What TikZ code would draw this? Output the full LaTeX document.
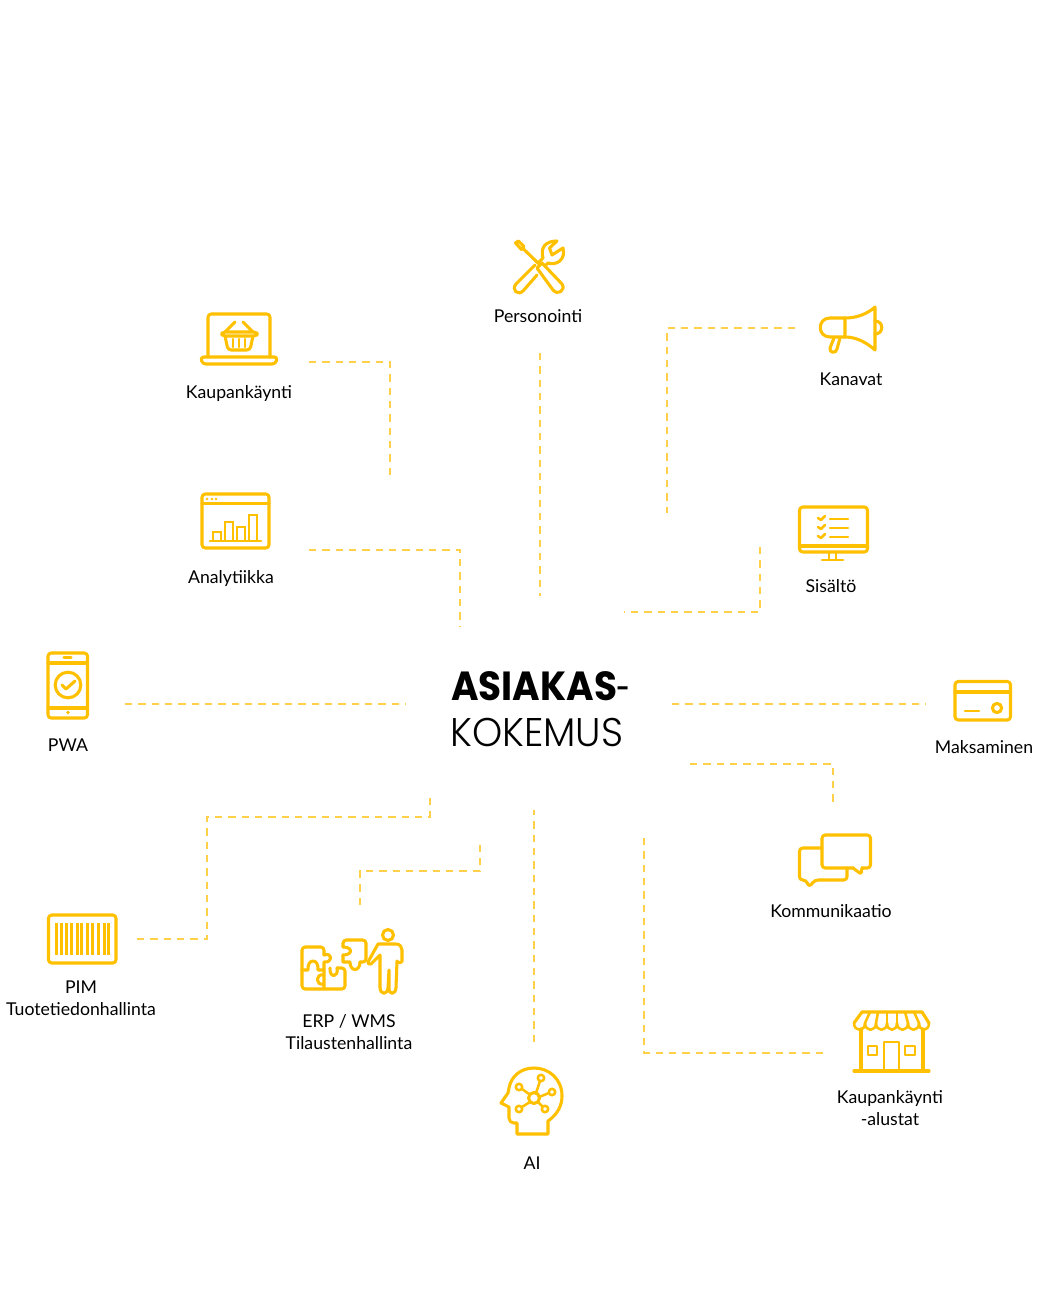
\documentclass[tikz,border=0pt]{standalone}
\usepackage{fontspec}
\setmainfont{Lato}
\newfontfamily\titlebold{Poppins Bold}[FakeStretch=0.92]
\newfontfamily\titlelight{Poppins Light}[FakeStretch=0.96]
\definecolor{ico}{HTML}{FFC000}
\definecolor{dsh}{HTML}{FFD04A}
\tikzset{
  icon/.style={draw=ico,line width=2.3pt,line join=round,line cap=round,fill=none},
  iconr/.style={icon,rounded corners=2.4pt},
  thin icon/.style={icon,line width=1.9pt},
  bar/.style={draw=ico,line width=1.9pt},
  conn/.style={draw=dsh,line width=1pt,dash pattern=on 5.6pt off 4.4pt},
  lab/.style={font=\fontsize{13.25pt}{16.5pt}\selectfont,text=black,align=center,inner sep=0pt},
}
\begin{document}
\begin{tikzpicture}[x=0.75pt,y=-0.75pt]
\useasboundingbox (0,0) rectangle (1059,1316);
\fill[white] (0,0) rectangle (1059,1316);

% title
\node[anchor=base west,inner sep=0pt,font=\fontsize{30.5pt}{30pt}\selectfont] (t1) at (451,700) {\titlebold ASIAKAS\normalfont\kern-1.5pt -};
\node[anchor=base west,inner sep=0pt,font=\fontsize{30pt}{30pt}\selectfont] (t2) at (450,746) {\titlelight KOKEMUS};

% labels
\node[lab] (personointi) at (538,316) {Personointi};
\node[lab] (kaupan) at (239,394) {Kaupankäynti};
\node[lab] (kanavat) at (851,379) {Kanavat};
\node[lab] (analyt) at (231,579) {Analytiikka};
\node[lab] (sisalto) at (831,586) {Sisältö};
\node[lab] (pwa) at (68,745) {PWA};
\node[lab] (maksu) at (984,747) {Maksaminen};
\node[lab] (komm) at (831,911) {Kommunikaatio};
\node[lab] (pim) at (81,998) {PIM\\Tuotetiedonhallinta};
\node[lab] (erp) at (349,1032) {ERP / WMS\\Tilaustenhallinta};
\node[lab] (ai) at (532,1163) {AI};
\node[lab] (alustat) at (890,1108) {Kaupankäynti\\-alustat};

% connector ends
\coordinate (a1) at (309,362); \coordinate (a2) at (390,362); \coordinate (a3) at (390,475);
\coordinate (b1) at (540,353); \coordinate (b2) at (540,596);
\coordinate (c1) at (795,328); \coordinate (c2) at (667,328); \coordinate (c3) at (667,513);
\coordinate (d1) at (760,547); \coordinate (d2) at (760,612); \coordinate (d3) at (624,612);
\coordinate (e1) at (309,550); \coordinate (e2) at (460,550); \coordinate (e3) at (460,626);
\coordinate (f1) at (125,704); \coordinate (f2) at (406,704);
\coordinate (g1) at (672,704); \coordinate (g2) at (926,704);
\coordinate (h1) at (690,764); \coordinate (h2) at (833,764); \coordinate (h3) at (833,806);
\coordinate (i1) at (137,939); \coordinate (i2) at (207,939); \coordinate (i3) at (207,817); \coordinate (i4) at (430,817); \coordinate (i5) at (430,793);
\coordinate (j1) at (360,905); \coordinate (j2) at (360,871); \coordinate (j3) at (480,871); \coordinate (j4) at (480,845);
\coordinate (k1) at (534,1042); \coordinate (k2) at (534,810);
\coordinate (l1) at (823,1053); \coordinate (l2) at (644,1053); \coordinate (l3) at (644,838);
\draw[conn] (a1) -- (a2) -- (a3);
\draw[conn] (b1) -- (b2);
\draw[conn] (c1) -- (c2) -- (c3);
\draw[conn] (d1) -- (d2) -- (d3);
\draw[conn] (e1) -- (e2) -- (e3);
\draw[conn] (f1) -- (f2);
\draw[conn] (g1) -- (g2);
\draw[conn] (h1) -- (h2) -- (h3);
\draw[conn] (i1) -- (i2) -- (i3) -- (i4) -- (i5);
\draw[conn] (j1) -- (j2) -- (j3) -- (j4);
\draw[conn] (k1) -- (k2);
\draw[conn] (l1) -- (l2) -- (l3);

% Personointi: tools
\draw[icon] (515.5,243) -- (518.5,241) -- (524,246.5) -- (521.5,249.5) -- cycle;
\draw[icon] (523,248.5) -- (540,265);
\draw[icon] (537,268) -- (542,263) -- (562,284) .. controls (566,290) and (558,296) .. (553,290) -- cycle;
\draw[icon] (535,265) -- (516,284) .. controls (511,290) and (518,296) .. (523,291) -- (537,275);
\draw[icon] (538.5,262.5) -- (543,258) .. controls (540,247) and (546,241) .. (557,241) -- (549.5,248) -- (552,255) -- (563,248)
  .. controls (566,259) and (557,266) .. (548,263) -- (545,266);

% Kaupankaynti: laptop + basket
\draw[iconr] (208,357) -- (208,314) -- (270,314) -- (270,357);
\draw[iconr] (200.5,357) -- (277.5,357) -- (275.5,364) -- (202.5,364) -- cycle;
\draw[icon] (225,332) -- (235,322) (243,322) -- (253,332);
\draw[iconr] (222,332) rectangle (257,336);
\draw[iconr] (225,336) -- (228,350) -- (250,350) -- (253,336);
\draw[thin icon] (233,339) -- (233,347) (239,339) -- (239,347) (245,339) -- (245,347);

% Kanavat: megaphone
\draw[icon] (845,318) -- (830,318) .. controls (817,318) and (817,337) .. (830,337) -- (845,337) -- cycle;
\draw[icon] (845,318) .. controls (857,318) and (867,314) .. (875,307) -- (875,350) .. controls (867,343) and (857,337) .. (845,337);
\draw[icon] (875,321) .. controls (884,321) and (884,334) .. (875,334);
\draw[icon] (834,338) -- (830,348) .. controls (829,353) and (836,354) .. (837,349) -- (840,338);

% Analytiikka
\draw[iconr] (202,494) rectangle (269,548);
\draw[icon] (202,503.5) -- (269,503.5);
\fill[ico] (207,499) circle[radius=1.4] (212,499) circle[radius=1.4] (216,499) circle[radius=1.4];
\draw[thin icon] (210,541) -- (261,541);
\draw[bar] (213,541) -- (213,532) -- (221,532) -- (221,541);
\draw[bar] (225,541) -- (225,522) -- (233,522) -- (233,541);
\draw[bar] (237,541) -- (237,527) -- (245,527) -- (245,541);
\draw[bar] (249,541) -- (249,515) -- (257,515) -- (257,541);

% Sisalto: monitor
\draw[iconr] (799.5,507) rectangle (867.5,552);
\draw[icon] (799.5,546) -- (867.5,546);
\draw[thin icon] (829,552) -- (829,560) (836,552) -- (836,560) (822,560) -- (843,560);
\foreach \yy in {519,528,537}{
  \draw[thin icon] (818,\yy-1) -- (821,\yy+1) -- (825,\yy-3);
  \draw[thin icon] (830,\yy) -- (848,\yy);
}

% PWA: phone
\draw[iconr] (48,653) rectangle (87.5,718);
\draw[icon] (48,663) -- (87.5,663) (48,708) -- (87.5,708);
\draw[icon] (64,657.5) -- (71,657.5);
\fill[ico] (68,712.5) circle[radius=1.8];
\draw[icon] (68,685) circle[radius=12.8];
\draw[icon] (62,685) -- (66,689) -- (75,681);

% Maksaminen: card
\draw[iconr] (955,681.5) rectangle (1010.5,720);
\draw[icon] (955,692) -- (1010.5,692);
\draw[thin icon] (965,711) -- (979,711);
\draw[icon] (997,708) circle[radius=4.6];

% Kommunikaatio
\draw[iconr] (822,848) -- (799.5,848) -- (799.5,880) -- (806,880) -- (809,887) -- (815,880) -- (847,880) -- (847,868);
\draw[iconr] (822,835) rectangle (870.5,868);
\fill[white] (854,866) rectangle (861,870);
\draw[icon,rounded corners=1pt] (853,868) -- (861,874) -- (862,868);

% PIM: barcode
\draw[iconr] (48.5,915) rectangle (116,963);
\foreach \xx in {56,61,66,71,77,81,87,92,98,104,108}{
  \fill[ico] ({\xx-1.3},923) rectangle ({\xx+1.9},955);
}

% ERP: puzzle and person
\draw[iconr] (324,955) -- (324,947) -- (302,947) -- (302,989) -- (345,989) -- (345,968) -- (337,968);
\draw[icon] (324,955) .. controls (333,952) and (333,963) .. (324,962) -- (324,989);
\draw[icon] (302,970) -- (308,970) .. controls (307,958) and (319,958) .. (318,970) -- (324,970);
\draw[icon] (324,975) .. controls (315,973) and (315,986) .. (324,984);
\draw[icon] (337,968) .. controls (339,978) and (329,978) .. (330,968);
\draw[iconr] (343,947) -- (343,940) -- (366,940) -- (366,962) -- (360,962);
\draw[icon] (343,947) .. controls (353,947) and (353,955) .. (343,955);
\draw[icon] (343,955) -- (343,962) -- (350,962) .. controls (350,972) and (360,972) .. (360,962);
\draw[icon] (388,935) circle[radius=5.5];
\draw[icon] (368,962) -- (378,944) -- (396,944) .. controls (400,944) and (402,947) .. (402,950) -- (402,961)
  .. controls (402,963) and (397,963) .. (397,961) -- (396,988)
  .. controls (395,995) and (389,995) .. (389,988) -- (389,970) -- (388,988)
  .. controls (387,995) and (381,995) .. (380,988) -- (380,955) -- (371,964) .. controls (369,965) and (367,963) .. (368,962);

% AI: head
\draw[icon] (517,1134) -- (548,1134) -- (548,1121) .. controls (558,1114) and (562,1105) .. (562,1096)
  .. controls (562,1079) and (549,1068) .. (534,1068) .. controls (520,1068) and (511,1077) .. (509,1088)
  -- (508,1093) -- (501,1103) -- (509,1107) -- (509,1118) .. controls (509,1121) and (511,1123) .. (514,1123) -- (517,1123) -- cycle;
\draw[icon] (534,1098) circle[radius=5.5];
\foreach \px/\py in {519/1087,541/1078,552/1092,519/1109,545/1109}{
  \draw[thin icon] (\px,\py) circle[radius=3.2];
}
\draw[thin icon] (529,1094) -- (522,1089) (536,1093) -- (540,1081) (539,1097) -- (549,1093) (530,1102) -- (522,1107) (538,1102) -- (543,1107);

% Alustat: shop
\draw[icon] (854,1023) -- (862,1012) -- (922,1012) -- (929,1023);
\foreach \xa/\xb/\tb in {854/865/870,865/876/878,876/887/887,887/897/897,897/908/905,908/919/914,919/929/922}{
  \draw[thin icon] (\xa,1023) .. controls (\xa,1032) and (\xb,1032) .. (\xb,1023);
  \draw[thin icon] (\xb,1023) -- (\tb,1012);
}
\draw[icon] (861,1029) -- (861,1071) (923,1029) -- (923,1071);
\draw[icon] (854,1071) -- (929,1071);
\draw[thin icon] (884,1071) -- (884,1042) -- (899,1042) -- (899,1071);
\draw[thin icon] (868,1046) rectangle (877,1055);
\draw[thin icon] (905,1046) rectangle (915,1055);
\end{tikzpicture}
\end{document}
